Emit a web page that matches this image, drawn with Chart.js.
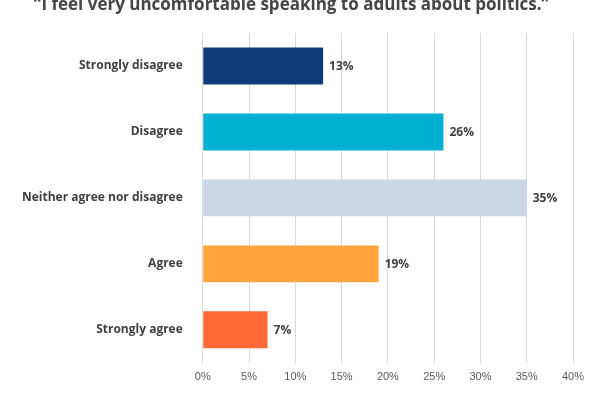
<!DOCTYPE html>
<html>
<head>
<meta charset="utf-8">
<script src="https://cdn.jsdelivr.net/npm/chart.js@4"></script>
<style>
  html, body { margin:0; padding:0; background:#fff; }
  #wrap { position:relative; width:600px; height:400px; }
</style>
</head>
<body>
<div id="wrap"><canvas id="c"></canvas></div>
<script>
const categories = ['Strongly disagree', 'Disagree', 'Neither agree nor disagree', 'Agree', 'Strongly agree'];
const values     = [13, 26, 35, 19, 7];
const colors     = ['#0f3a78', '#00b0d0', '#c9d7e6', '#ffa53c', '#ff6937'];
const titleText  = '\u201CI feel very uncomfortable speaking to adults about politics.\u201D';

// value labels at bar ends
const valueLabels = {
  id: 'valueLabels',
  afterDatasetsDraw(chart) {
    const { ctx } = chart;
    const meta = chart.getDatasetMeta(0);
    ctx.save();
    ctx.font = 'bold 12px "Open Sans", Arial, sans-serif';
    ctx.fillStyle = '#404040';
    ctx.textAlign = 'left';
    ctx.textBaseline = 'middle';
    meta.data.forEach((bar, i) => ctx.fillText(values[i] + '%', bar.x + 6, bar.y + 1));
    ctx.restore();
  }
};

new Chart(document.getElementById('c'), {
  type: 'bar',
  data: {
    labels: categories,
    datasets: [{ data: values, backgroundColor: colors, borderWidth: 0, barPercentage: 0.56, categoryPercentage: 1 }],
  },
  options: {
    indexAxis: 'y', responsive: true, maintainAspectRatio: false, animation: false,
    layout: { padding: { left: 10, right: 27, top: 0, bottom: 8 } },
    plugins: {
      legend: { display: false },
      tooltip: { enabled: false },
      title: {
        display: true, text: titleText, color: '#454545',
        font: { size: 17, weight: 'bold', family: '"Open Sans", Arial, sans-serif', lineHeight: 1 },
        padding: { top: -3, bottom: 19 },
      },
    },
    scales: {
      x: {
        min: 0, max: 40,
        ticks: { stepSize: 5, color: '#595959', font: { size: 11 }, callback: v => v + '%', padding: 8 },
        grid: { color: '#d9d9d9', drawTicks: false },
        border: { display: false },
      },
      y: {
        ticks: { color: '#404040', font: { size: 12, weight: 'bold', family: '"Open Sans", Arial, sans-serif' }, padding: 12 },
        grid: { display: false },
        border: { display: false },
      },
    },
  },
  plugins: [valueLabels],
});
</script>
</body>
</html>
